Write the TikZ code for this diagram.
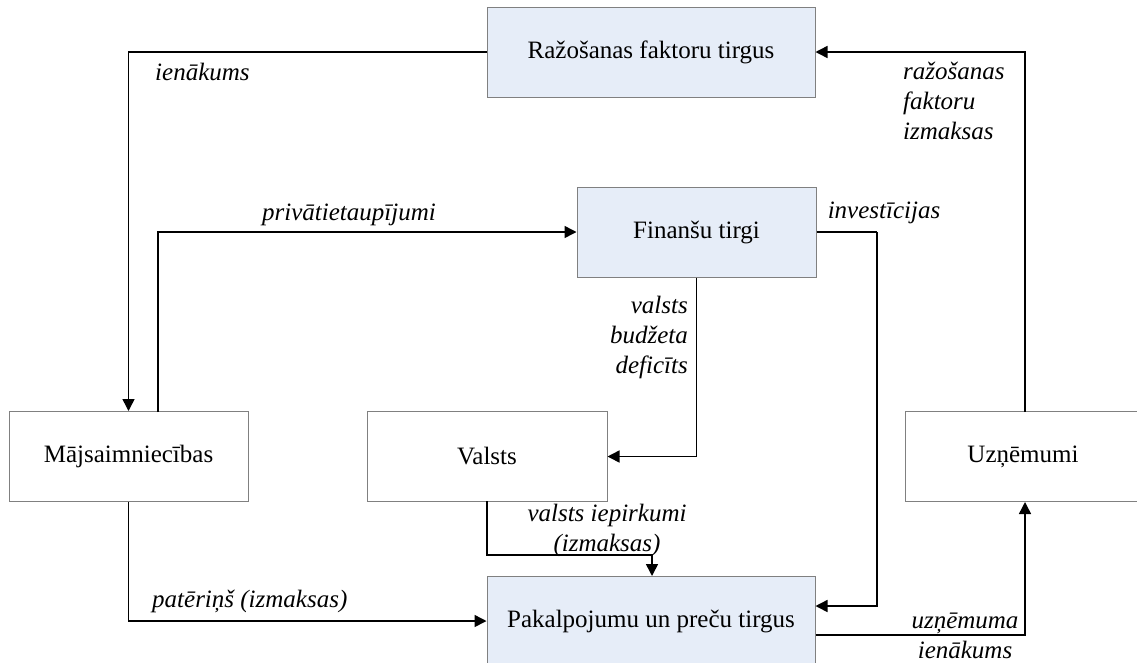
\documentclass[tikz,border=0pt]{standalone}
\usepackage{fontspec}
\setmainfont{Liberation Serif}
\usetikzlibrary{arrows.meta}
\definecolor{marketfill}{HTML}{E6EDF8}
\definecolor{boxline}{HTML}{808080}
\tikzset{
  sector/.style={draw=boxline, line width=1pt, fill=white, inner sep=0pt,
    minimum width=#1, minimum height=90pt, font=\fontsize{25}{30}\selectfont},
  market/.style={sector=#1, fill=marketfill},
  flow/.style={line width=1.5pt, -{Triangle[length=12pt,width=12pt]}},
  link/.style={line width=1.5pt},
  flowlabel/.style={inner sep=0pt, font=\fontsize{25}{30}\selectfont\itshape}
}
\begin{document}
\begin{tikzpicture}[x=1pt, y=-1pt]
\useasboundingbox (0,0) rectangle (1137,662);
\clip (0,0) rectangle (1137,662);

% markets and sectors
\node[market=328pt] (fac) at (651,52) {Ražošanas faktoru tirgus};
\node[market=239pt] (fin) at (696.5,232) {Finanšu tirgi};
\node[market=328pt] (pak) at (651,621) {Pakalpojumu un preču tirgus};
\node[sector=239pt] (maj) at (128.5,456.5) {Mājsaimniecības};
\node[sector=240pt] (val) at (487,456.5) {Valsts};
\node[sector=236pt] (uzn) at (1023,456.5) {Uzņēmumi};

% helper points for the bends
\coordinate (majup) at (158,412);
\coordinate (finout) at (877,232);
\coordinate (valdown) at (487,501);
\coordinate (pakin) at (652,576);
\coordinate (uznin) at (1025,502);
\coordinate (uznout) at (1025,412);

% flows
\draw[flow] (fac.west) -| (maj.north);
\draw[flow] (majup) |- (fin.west);
\draw[flow] (finout) -- (877,606) -- (pak.east |- 0,606);
\draw[link] (fin.east) -- (finout);
\draw[flow] (fin.south) |- (val.east);
\draw[flow] (valdown) -- (487,555) -| (pakin);
\draw[flow] (maj.south) |- (pak.west);
\draw[flow] (pak.east |- 0,635) -| (uznin);
\draw[flow] (uznout) |- (fac.east);

% labels
\node[flowlabel, anchor=west] (l1) at (155,72) {ienākums};
\node[flowlabel, anchor=west, align=left] (l2) at (903,101) {ražošanas\\faktoru\\izmaksas};
\node[flowlabel] (l3) at (349,215) {privātietaupījumi};
\node[flowlabel] (l4) at (884,213) {investīcijas};
\node[flowlabel, anchor=east, align=right] (l5) at (688,337) {valsts\\budžeta\\deficīts};
\node[flowlabel, align=center] (l6) at (607,530) {valsts iepirkumi\\(izmaksas)};
\node[flowlabel, anchor=west] (l7) at (152,601) {patēriņš (izmaksas)};
\node[flowlabel, align=center] (l8) at (965,636) {uzņēmuma\\ienākums};
\end{tikzpicture}
\end{document}
